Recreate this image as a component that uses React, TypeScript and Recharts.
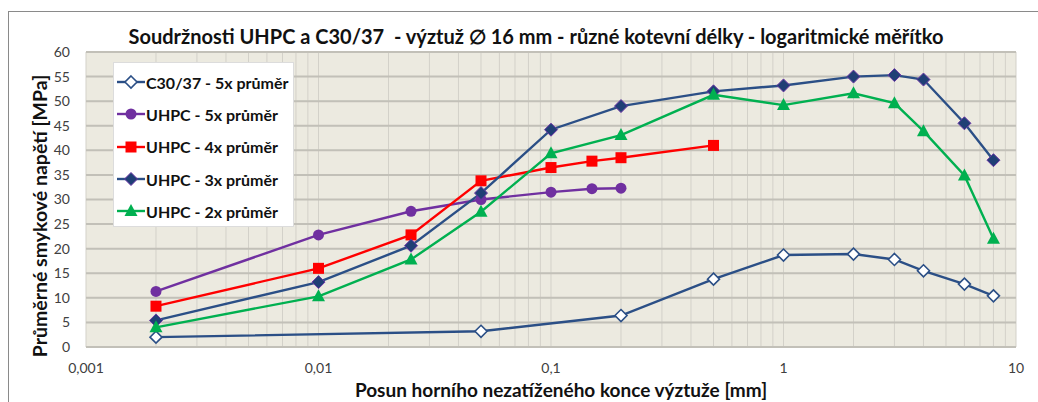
import { LineChart, Line, XAxis, YAxis, CartesianGrid, ReferenceLine } from 'recharts'

// posun [mm] a prumerne smykove napeti [MPa]
const c30X = [0.002, 0.05, 0.2, 0.5, 1, 2, 3, 4, 6, 8]
const c30Y = [2, 3.2, 6.4, 13.8, 18.7, 18.9, 17.8, 15.5, 12.8, 10.4]

const uhpc5X = [0.002, 0.01, 0.025, 0.05, 0.1, 0.15, 0.2]
const uhpc5Y = [11.3, 22.8, 27.6, 30, 31.5, 32.2, 32.3]

const uhpc4X = [0.002, 0.01, 0.025, 0.05, 0.1, 0.15, 0.2, 0.5]
const uhpc4Y = [8.3, 16, 22.8, 33.8, 36.5, 37.8, 38.5, 41]

const uhpc3X = [0.002, 0.01, 0.025, 0.05, 0.1, 0.2, 0.5, 1, 2, 3, 4, 6, 8]
const uhpc3Y = [5.4, 13.2, 20.6, 31.3, 44.2, 49, 52, 53.2, 55, 55.3, 54.4, 45.5, 38]

const uhpc2X = [0.002, 0.01, 0.025, 0.05, 0.1, 0.2, 0.5, 1, 2, 3, 4, 6, 8]
const uhpc2Y = [4, 10.3, 17.8, 27.5, 39.4, 43.1, 51.3, 49.2, 51.6, 49.6, 43.9, 34.9, 22]

const decades = [0.001, 0.01, 0.1, 1, 10]
const yTicks = [0, 5, 10, 15, 20, 25, 30, 35, 40, 45, 50, 55, 60]

const FONT = 'Lato, "Open Sans", sans-serif'

const zip = (xs: number[], ys: number[]) => xs.map((x, i) => ({ x, y: ys[i] }))

// minor grid 2..9 v kazde dekade
const xTicks: number[] = []
decades.forEach((d, i) => {
  xTicks.push(d)
  if (i < decades.length - 1) {
    for (let m = 2; m <= 9; m++) xTicks.push(+(d * m).toPrecision(3))
  }
})

const isDecade = (v: number) => Math.abs(Math.log10(v) - Math.round(Math.log10(v))) < 1e-6

const series = [
  { name: 'C30/37 - 5x průměr', data: zip(c30X, c30Y), color: '#2B4F86', shape: 'diamondOpen' },
  { name: 'UHPC - 5x průměr', data: zip(uhpc5X, uhpc5Y), color: '#7030A0', shape: 'circle' },
  { name: 'UHPC - 4x průměr', data: zip(uhpc4X, uhpc4Y), color: '#FF0000', shape: 'square' },
  { name: 'UHPC - 3x průměr', data: zip(uhpc3X, uhpc3Y), color: '#2B4F86', shape: 'diamond' },
  { name: 'UHPC - 2x průměr', data: zip(uhpc2X, uhpc2Y), color: '#00B050', shape: 'triangle' },
]

const Marker = ({ cx, cy, shape, color }: any) => {
  if (cx == null || cy == null) return null
  switch (shape) {
    case 'diamondOpen':
      return <path d={`M${cx},${cy - 6}L${cx + 6},${cy}L${cx},${cy + 6}L${cx - 6},${cy}Z`} fill="#fff" stroke={color} strokeWidth={1.6} />
    case 'diamond':
      return <path d={`M${cx},${cy - 6.5}L${cx + 6.5},${cy}L${cx},${cy + 6.5}L${cx - 6.5},${cy}Z`} fill="#1F3F75" stroke="#6A35A6" strokeWidth={1} />
    case 'circle':
      return <circle cx={cx} cy={cy} r={5.5} fill={color} />
    case 'square':
      return <rect x={cx - 5.5} y={cy - 5.5} width={11} height={11} fill={color} />
    case 'triangle':
      return <path d={`M${cx},${cy - 7}L${cx + 6.5},${cy + 5}L${cx - 6.5},${cy + 5}Z`} fill={color} />
    default:
      return null
  }
}

const LegendBox = () => (
  <div style={{ width: 181, height: 165, background: '#fff', border: '1px solid #dcdcdc', boxSizing: 'border-box', paddingTop: 3 }}>
    {series.map((s) => (
      <div key={s.name} style={{ display: 'flex', alignItems: 'center', height: 32.3, paddingLeft: 3 }}>
        <svg width={28} height={16} style={{ flex: 'none' }}>
          <line x1={0} y1={8} x2={28} y2={8} stroke={s.color} strokeWidth={2.4} />
          <Marker cx={14} cy={8} shape={s.shape} color={s.color} />
        </svg>
        <span style={{ fontFamily: FONT, fontWeight: 700, fontSize: 16, color: '#111', marginLeft: 1, whiteSpace: 'nowrap' }}>{s.name}</span>
      </div>
    ))}
  </div>
)

export default function App() {
  return (
    <div style={{ position: 'fixed', left: 0, top: 0, width: 1038, height: 402, overflow: 'hidden', background: '#fff' }}>
      <div style={{ position: 'absolute', left: 8, top: 11, width: 1100, height: 500, border: '1px solid #8a8a8a' }} />
      <div style={{ position: 'absolute', left: 0, top: 0 }}>
        <LineChart width={1038} height={402} margin={{ top: 52, right: 22, bottom: 25, left: 46 }}>
          <CartesianGrid stroke="#D3D1C9" strokeWidth={1} fill="#ECEAE0" fillOpacity={1} />
          <XAxis
            type="number"
            dataKey="x"
            scale="log"
            domain={[0.001, 10]}
            ticks={xTicks}
            interval={0}
            allowDataOverflow
            tickLine={false}
            axisLine={false}
            height={30}
            tickMargin={10}
            tick={{ fontFamily: FONT, fontSize: 14, fill: '#404040' }}
            tickFormatter={(v: number) => (isDecade(v) ? String(v).replace('.', ',') : '')}
          />
          <YAxis
            type="number"
            dataKey="y"
            domain={[0, 60]}
            ticks={yTicks}
            interval={0}
            tickLine={false}
            axisLine={false}
            width={40}
            tickMargin={10}
            tick={{ fontFamily: FONT, fontSize: 14, fill: '#404040' }}
          />
          {yTicks.map((t) => (
            <ReferenceLine key={t} y={t} stroke="#C2C0B8" strokeWidth={2} />
          ))}
          {series.map((s) => (
            <Line
              key={s.name}
              data={s.data}
              dataKey="y"
              name={s.name}
              stroke={s.color}
              strokeWidth={2.4}
              isAnimationActive={false}
              dot={(p: any) => <Marker key={`${s.name}-${p.index}`} cx={p.cx} cy={p.cy} shape={s.shape} color={s.color} />}
              activeDot={false}
            />
          ))}
        </LineChart>
      </div>
      <div style={{ position: 'absolute', left: 113, top: 62 }}>
        <LegendBox />
      </div>
      <div style={{ position: 'absolute', left: 0, width: 1072, top: 23, textAlign: 'center', fontFamily: FONT, fontWeight: 700, fontSize: 20, color: '#111', whiteSpace: 'nowrap', lineHeight: '26px' }}>
        Soudržnosti UHPC a C30/37&nbsp; - výztuž ∅ 16 mm - různé kotevní délky - logaritmické měřítko
      </div>
      <div style={{ position: 'absolute', left: 0, width: 1122, top: 377, textAlign: 'center', fontFamily: FONT, fontWeight: 700, fontSize: 19, color: '#111', whiteSpace: 'nowrap', lineHeight: '26px' }}>
        Posun horního nezatíženého konce výztuže [mm]
      </div>
      <div style={{ position: 'absolute', left: 40, top: 216, width: 0, height: 0 }}>
        <div style={{ position: 'absolute', left: -200, top: -13, width: 400, textAlign: 'center', transform: 'rotate(-90deg)', fontFamily: FONT, fontWeight: 700, fontSize: 19.5, color: '#111', whiteSpace: 'nowrap', lineHeight: '26px' }}>
          Průměrné smykové napětí [MPa]
        </div>
      </div>
    </div>
  )
}
